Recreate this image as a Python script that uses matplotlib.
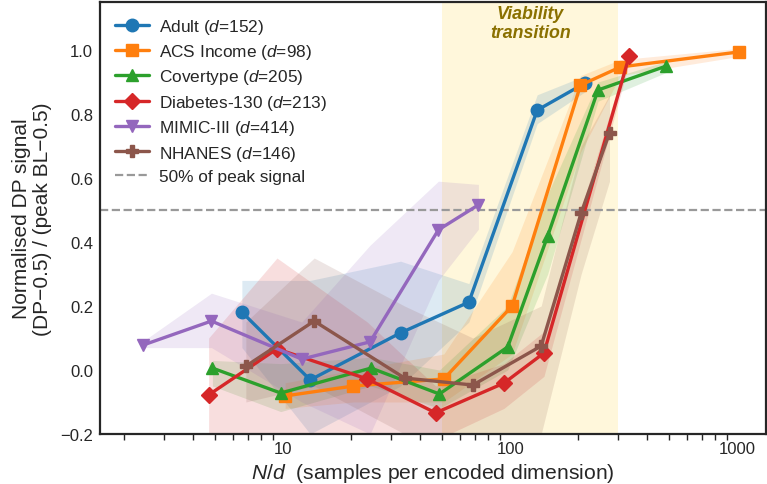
import matplotlib
matplotlib.use("Agg")
import matplotlib.pyplot as plt
import seaborn as sns
import numpy as np
from matplotlib.ticker import FixedLocator, FixedFormatter, LogLocator, NullFormatter

sns.set_theme(style="white", context="notebook")
plt.rcParams['font.family'] = ['Liberation Sans', 'DejaVu Sans']
plt.rcParams['mathtext.fontset'] = 'custom'
plt.rcParams['mathtext.rm'] = 'Liberation Sans'
plt.rcParams['mathtext.it'] = 'Liberation Sans:italic'
plt.rcParams['axes.edgecolor'] = '#262626'

# ---------------- data ----------------
names = ["Adult", "ACS Income", "Covertype", "Diabetes-130", "MIMIC-III", "NHANES"]
dims = [152, 98, 205, 213, 414, 146]
colors = ["#1f77b4", "#ff7f0e", "#2ca02c", "#d62728", "#9467bd", "#8c564b"]
markers = ["o", "s", "^", "D", "v", "P"]

adult_n = [1000, 2000, 5000, 10000, 20000, 32561]
adult_y = [0.181, -0.031, 0.116, 0.212, 0.812, 0.897]
adult_lo = [0.07, -0.20, -0.05, 0.15, 0.77, 0.87]
adult_hi = [0.28, 0.28, 0.34, 0.27, 0.86, 0.92]

acs_n = [1000, 2000, 5000, 10000, 20000, 30000, 100000]
acs_y = [-0.081, -0.050, -0.028, 0.200, 0.890, 0.947, 0.994]
acs_lo = [-0.12, -0.10, -0.10, 0.05, 0.68, 0.92, 0.98]
acs_hi = [-0.04, 0.00, 0.05, 0.37, 0.92, 0.97, 1.005]

cov_n = [1000, 2000, 5000, 10000, 20000, 30000, 50000, 100000]
cov_y = [0.006, -0.072, 0.006, -0.075, 0.072, 0.419, 0.875, 0.950]
cov_lo = [-0.05, -0.13, -0.05, -0.12, 0.00, 0.30, 0.84, 0.93]
cov_hi = [0.03, 0.02, 0.04, 0.00, 0.20, 0.55, 0.90, 0.965]

dia_n = [1000, 2000, 5000, 10000, 20000, 30000, 71236]
dia_y = [-0.078, 0.066, -0.028, -0.134, -0.041, 0.053, 0.981]
dia_lo = [-0.25, -0.25, -0.25, -0.22, -0.12, -0.02, 0.96]
dia_hi = [0.10, 0.35, 0.15, -0.05, 0.02, 0.12, 1.00]

mim_n = [1000, 2000, 5000, 10000, 20000, 30000]
mim_y = [0.078, 0.153, 0.034, 0.088, 0.438, 0.516]
mim_lo = [0.07, 0.07, -0.10, -0.20, 0.28, 0.44]
mim_hi = [0.09, 0.24, 0.15, 0.39, 0.59, 0.58]

nha_n = [1000, 2000, 5000, 10000, 20000, 30000, 40000]
nha_y = [0.012, 0.153, -0.025, -0.047, 0.075, 0.491, 0.741]
nha_lo = [-0.10, -0.05, -0.20, -0.20, -0.20, 0.30, 0.59]
nha_hi = [0.15, 0.35, 0.20, 0.10, 0.20, 0.70, 0.86]

series = [
    (adult_n, adult_y, adult_lo, adult_hi),
    (acs_n, acs_y, acs_lo, acs_hi),
    (cov_n, cov_y, cov_lo, cov_hi),
    (dia_n, dia_y, dia_lo, dia_hi),
    (mim_n, mim_y, mim_lo, mim_hi),
    (nha_n, nha_y, nha_lo, nha_hi),
]

band_lo, band_hi = 50, 300
ref_level = 0.5
xticks = [10, 100, 1000]
xticklabels = ["10", "100", "1000"]
yticks = [-0.2, 0.0, 0.2, 0.4, 0.6, 0.8, 1.0]

# ---------------- plot ----------------
fig = plt.figure(figsize=(7.67, 4.85), dpi=100)
ax = fig.add_axes([100/767, 1-435/485, 666/767, 432/485])

ax.axvspan(band_lo, band_hi, color="#fff3c4", alpha=0.6, lw=0, zorder=0)

for (n, y, lo, hi), name, d, c, m in zip(series, names, dims, colors, markers):
    x = np.array(n) / d
    ax.fill_between(x, lo, hi, color=c, alpha=0.15, lw=0, zorder=1)
    ax.plot(x, y, color=c, marker=m, lw=2.4, ms=9 if m != "D" else 8.5,
            label=f"{name} ($d$={d})", zorder=3)

ax.axhline(ref_level, color="#999999", ls="--", lw=1.6,
           label="50% of peak signal", zorder=2)

ax.text(np.sqrt(band_lo*band_hi), 1.14, "Viability\ntransition", ha="center", va="top",
        fontsize=12.8, fontweight="bold", fontstyle="italic", color="#8a7000",
        linespacing=1.15)

ax.set_xscale("log")
ax.set_xlim(1.56, 1340)
ax.set_ylim(-0.2, 1.15)
ax.xaxis.set_major_locator(FixedLocator(xticks))
ax.xaxis.set_major_formatter(FixedFormatter(xticklabels))
ax.xaxis.set_minor_locator(LogLocator(base=10, subs=np.arange(2, 10)))
ax.xaxis.set_minor_formatter(NullFormatter())
ax.set_yticks(yticks)
ax.set_yticklabels([f"{t:.1f}".replace("-", "\u2212") for t in yticks])
ax.tick_params(axis="both", which="major", labelsize=12, length=0, pad=5, colors="#262626")
ax.tick_params(axis="x", which="minor", bottom=True, length=4, width=1, color="#262626")

for s in ax.spines.values():
    s.set_linewidth(1.6)

ax.set_xlabel("$N/d$  (samples per encoded dimension)", fontsize=15.2, color="#262626",
              labelpad=4)
ax.set_ylabel("Normalised DP signal\n(DP\u22120.5) / (peak BL\u22120.5)", fontsize=15,
              color="#262626", linespacing=1.1, labelpad=6)

leg = ax.legend(loc="upper left", frameon=False, fontsize=12.4, handlelength=2.0,
                borderaxespad=0.45, labelspacing=0.37, handletextpad=0.6)

fig.savefig("out.png", dpi=100)
